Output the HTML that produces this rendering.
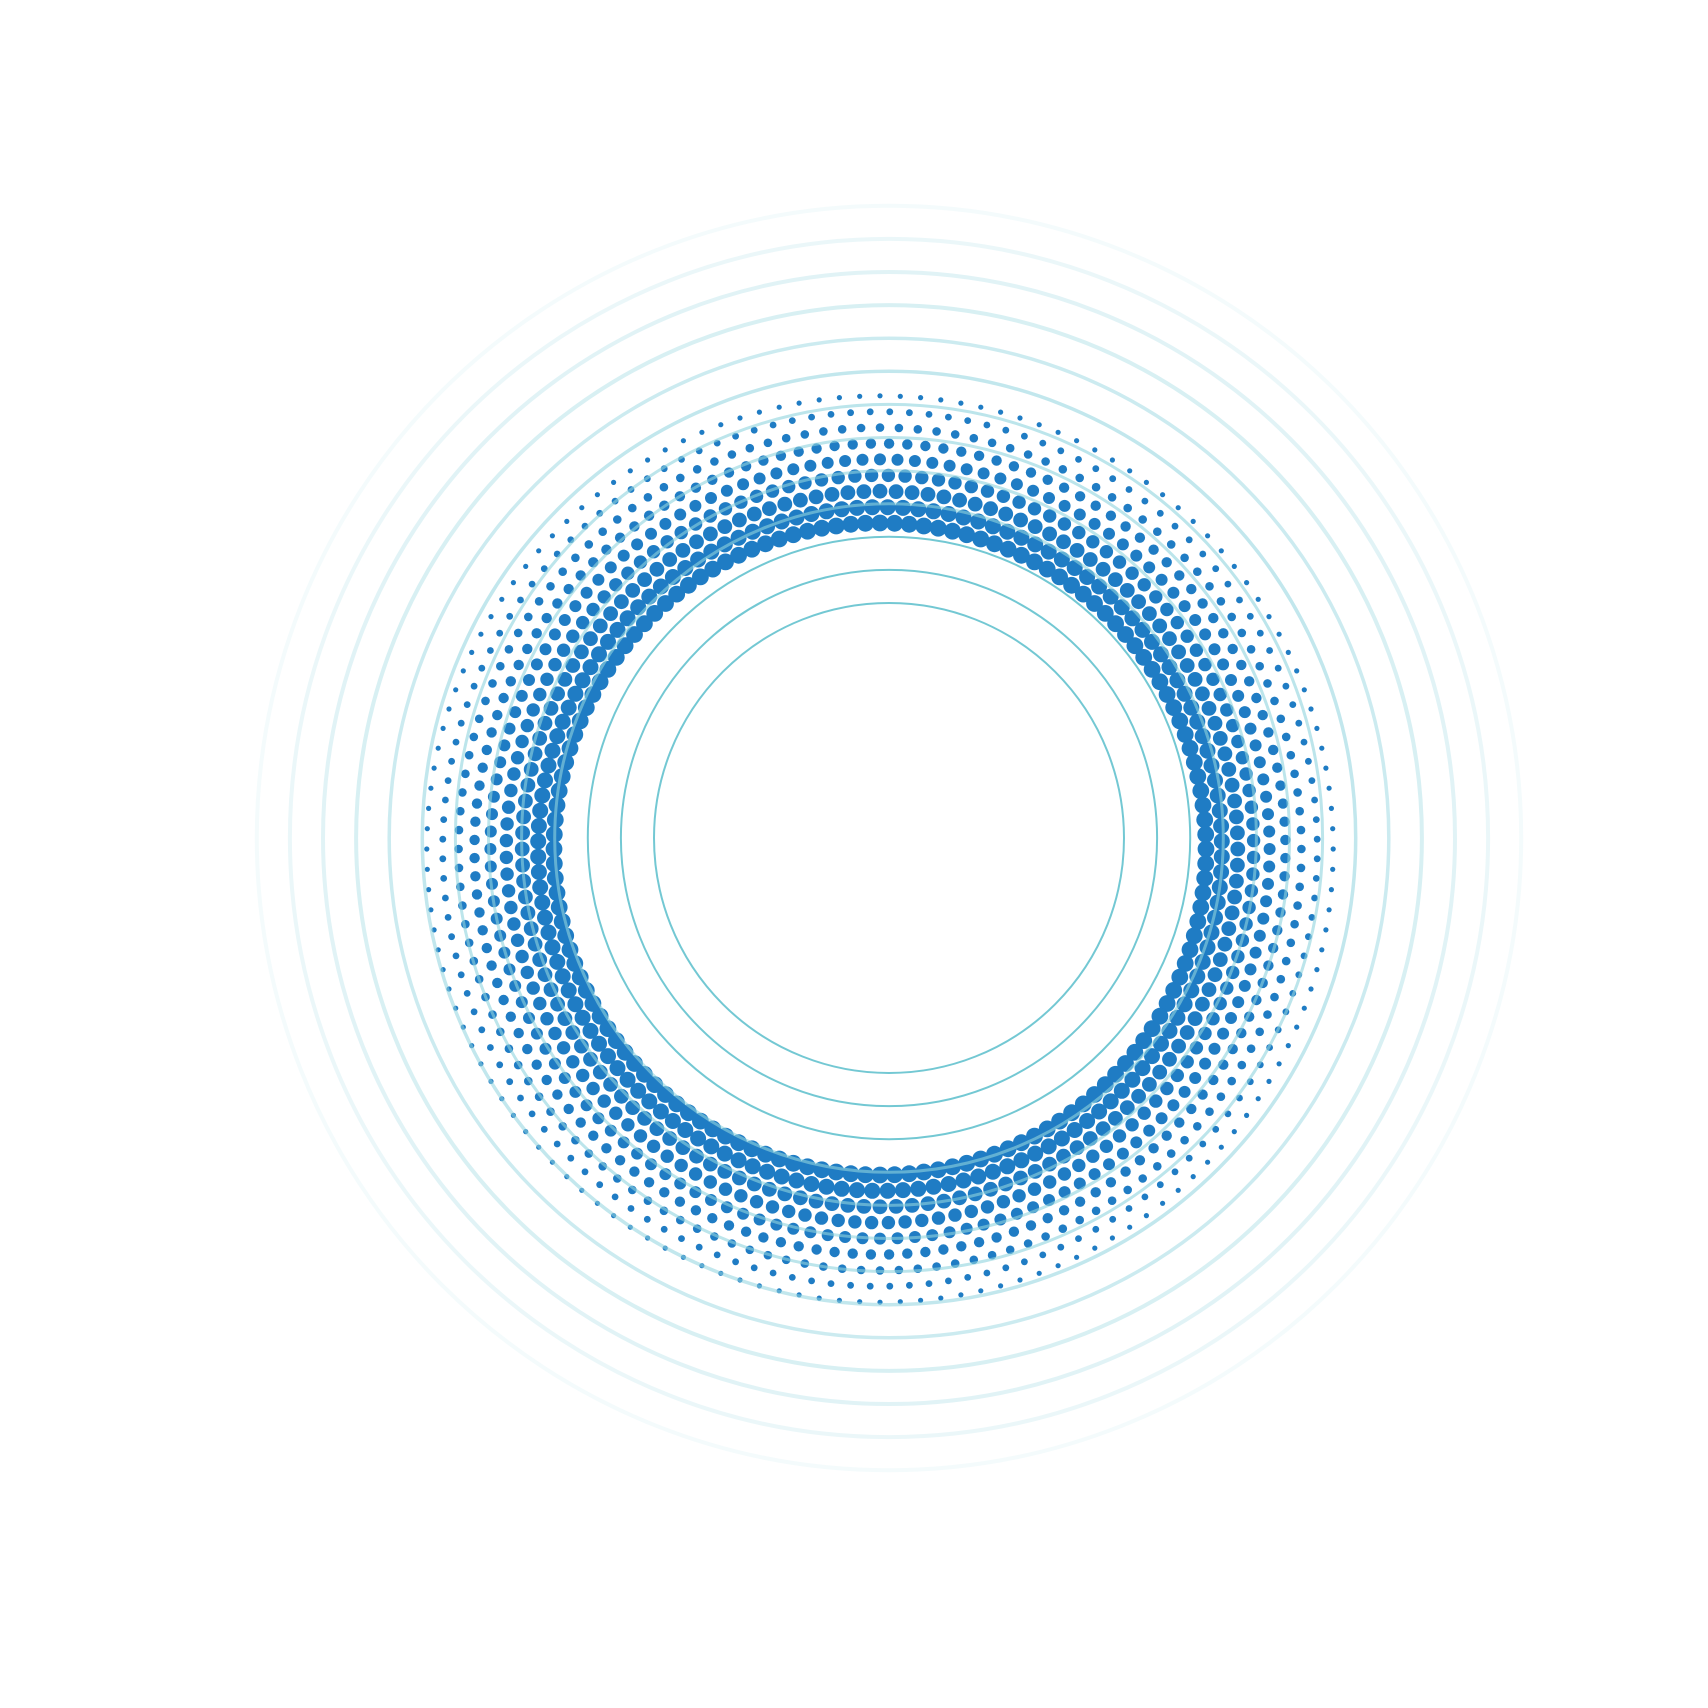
<!DOCTYPE html>
<html><head><meta charset="utf-8"><style>html,body{margin:0;padding:0;background:#fff}svg{display:block}</style></head>
<body>
<svg id="chart" width="1708" height="1708" viewBox="0 0 1708 1708" xmlns="http://www.w3.org/2000/svg">
<g id="dots"></g>
<g id="rings"></g>
</svg>
<script>
// ring data (inner -> outer): stroke widths and opacities
const ringWidths = [2, 2, 2, 3, 3, 3, 3, 3.5, 3.5, 4, 4, 4, 4];
const ringOpacity = [0.95, 0.95, 0.95, 0.6, 0.6, 0.6, 0.6, 0.55, 0.45, 0.35, 0.27, 0.18, 0.1];
// dot rows (inner -> outer): dot radius per row
const dotSizes = [8.4, 8.0, 7.4, 6.7, 6.0, 5.2, 4.3, 3.4, 2.6];
const dotsPerRow = [140, 140, 140, 140, 140, 140, 140, 140, 140];

const NS = 'http://www.w3.org/2000/svg';
const cx = 889, cy = 838;
const dcx = 880, dcy = 849;
const ringR = i => 235 + 33.1 * i;
const rowR = i => 326 + 15.9 * i;

const dg = document.getElementById('dots');
dotSizes.forEach((s, i) => {
  const n = dotsPerRow[i];
  const off = (i % 2) * 0.5;
  for (let k = 0; k < n; k++) {
    const a = (k + off) / n * Math.PI * 2;
    const c = document.createElementNS(NS, 'circle');
    c.setAttribute('cx', (dcx + rowR(i) * Math.cos(a)).toFixed(1));
    c.setAttribute('cy', (dcy + rowR(i) * Math.sin(a)).toFixed(1));
    c.setAttribute('r', s);
    c.setAttribute('fill', '#1f7cc4');
    
    
    dg.appendChild(c);
  }
});

const rg = document.getElementById('rings');
ringWidths.forEach((w, i) => {
  const c = document.createElementNS(NS, 'circle');
  c.setAttribute('cx', cx);
  c.setAttribute('cy', cy);
  c.setAttribute('r', ringR(i));
  c.setAttribute('fill', 'none');
  c.setAttribute('stroke', i < 3 ? '#6cc5d1' : '#8fd3de');
  c.setAttribute('stroke-width', w);
  c.setAttribute('stroke-opacity', ringOpacity[i]);
  
  
  rg.appendChild(c);
});
</script>
</body></html>
